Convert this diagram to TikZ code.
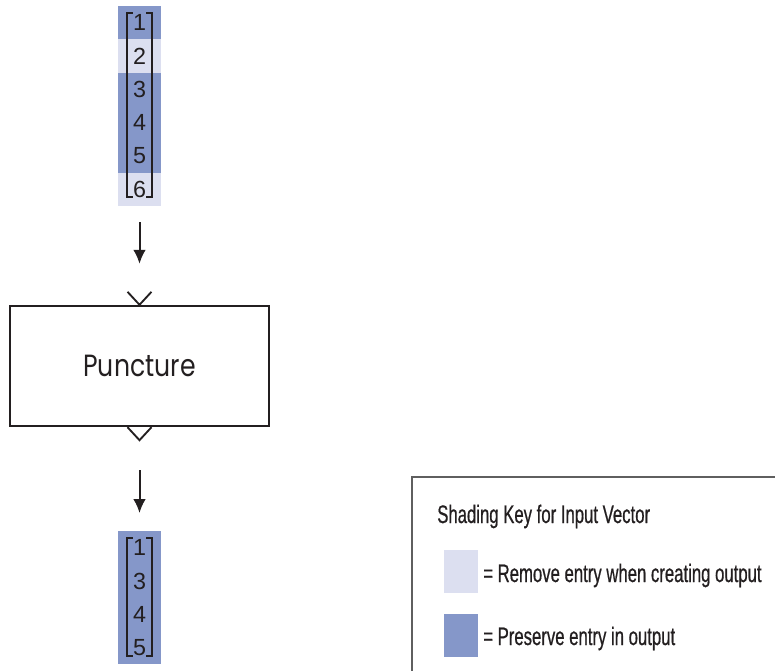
\documentclass[tikz,border=0pt]{standalone}
\usepackage{fontspec}
\usepackage{xcolor}
\usepackage{tikz}
\usetikzlibrary{positioning,calc}
\usetikzlibrary{arrows.meta}
\tikzset{>=latex}
\newfontfamily\numfont{Liberation Sans}
\newfontfamily\blockfont[FakeStretch=0.82]{Poppins}
\newfontfamily\keyfont[FakeStretch=0.66,FakeBold=0.6]{Liberation Sans}
\definecolor{keep}{RGB}{133,151,201}
\definecolor{drop}{RGB}{220,223,240}
\definecolor{keyline}{RGB}{95,95,95}
\definecolor{ink}{RGB}{35,31,32}

% brackets round a column of entries, from first to last
\newcommand{\vecbrk}[2]{%
  \draw[brk] ([shift={(11pt,-5pt)}]#1.north west) -- ([shift={(6.5pt,-5pt)}]#1.north west)
    -- ([shift={(6.5pt,6.5pt)}]#2.south west) -- ([shift={(11pt,6.5pt)}]#2.south west);
  \draw[brk] ([shift={(-11pt,-5pt)}]#1.north east) -- ([shift={(-6.5pt,-5pt)}]#1.north east)
    -- ([shift={(-6.5pt,6.5pt)}]#2.south east) -- ([shift={(-11pt,6.5pt)}]#2.south east);
}

\begin{document}
\begin{tikzpicture}[x=0.75pt,y=-0.75pt,
    entry/.style={minimum width=32.25pt, minimum height=25pt, inner sep=0pt, outer sep=0pt,
      text=ink, font=\numfont\fontsize{17.5}{18}\selectfont},
    keepent/.style={entry, fill=keep},
    dropent/.style={entry, fill=drop},
    brk/.style={ink, line width=1.6pt},
    flow/.style={->, ink, line width=1.5pt, >={Latex[length=10.5pt,width=9.5pt]}},
    port/.style={ink, line width=1.4pt},
    keytext/.style={anchor=base west, inner sep=0pt, text=ink, font=\keyfont\fontsize{19}{20}\selectfont},
    keysq/.style={minimum width=25.5pt, minimum height=32.25pt, inner sep=0pt}]
    \useasboundingbox (0,0) rectangle (775,671);

    % input vector
    \node[keepent] (in1) at (139.5,22.7) {1};
    \node[dropent, below=0pt of in1] (in2) {2};
    \node[keepent, below=0pt of in2] (in3) {3};
    \node[keepent, below=0pt of in3] (in4) {4};
    \node[keepent, below=0pt of in4] (in5) {5};
    \node[dropent, below=0pt of in5] (in6) {6};
    \vecbrk{in1}{in6}

    % block
    \node[draw=ink, line width=1.8pt, minimum width=194.25pt, minimum height=90pt,
      font=\blockfont\fontsize{23}{24}\selectfont, text=ink] (punct) at (139.5,366) {Puncture};
    \draw[port] ([shift={(-9pt,9.75pt)}]punct.north) -- (punct.north) -- ([shift={(9pt,9.75pt)}]punct.north);
    \draw[port] ([shift={(-9pt,0pt)}]punct.south) -- ([shift={(0pt,-9.75pt)}]punct.south) -- ([shift={(9pt,0pt)}]punct.south);

    % output vector
    \node[keepent] (out1) at (139.5,547.7) {1};
    \node[keepent, below=0pt of out1] (out2) {3};
    \node[keepent, below=0pt of out2] (out3) {4};
    \node[keepent, below=0pt of out3] (out4) {5};
    \vecbrk{out1}{out4}

    \draw[flow, shorten <=12pt, shorten >=30.75pt] (in6.south) -- (punct.north);
    \draw[flow, shorten <=32.25pt, shorten >=13.5pt] (punct.south) -- (out1.north);

    % shading key
    \draw[keyline, line width=1.2pt] (412,671) -- (412,477) -- (775,477);
    \node[keytext] (keytitle) at (437,523) {Shading Key for Input Vector};
    \node[keysq, fill=drop] (dropkey) at (461,571.5) {};
    \node[keysq, fill=keep] (keepkey) at (461,635.5) {};
    \node[keytext] (droptext) at (483,582) {= Remove entry when creating output};
    \node[keytext] (keeptext) at (483,645) {= Preserve entry in output};
\end{tikzpicture}
\end{document}
